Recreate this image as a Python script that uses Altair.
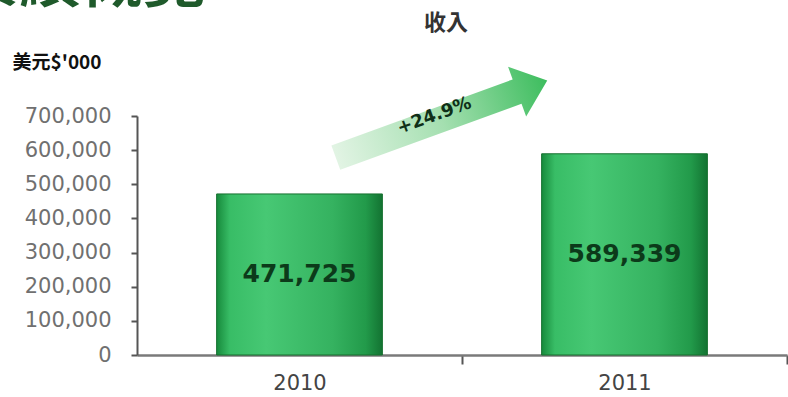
import altair as alt
import pandas as pd

# ---- data ----
years = ["2010", "2011"]
revenue = [471725, 589339]
growth_text = ["+24.9%"]
y_tick_values = [0, 100000, 200000, 300000, 400000, 500000, 600000, 700000]
chart_title = "收入"
y_title = "美元$'000"
heading = "業績概覽"

df = pd.DataFrame({"year": years, "revenue": revenue})
df["label"] = [f"{v:,}" for v in revenue]
df["mid"] = df["revenue"] / 2

# arrow annotation (position in the chart's own data space: x = year index 0..2)
arrow_df = pd.DataFrame({"ax": [0.937], "ay": [691000], "tx": [0.915], "ty": [700000], "txt": growth_text})

FONT = "DejaVu Sans"
CJK = "Noto Sans CJK TC"

y_scale = alt.Scale(domain=[0, 700000], nice=False, zero=True)
y_axis = alt.Axis(
    values=y_tick_values, labelExpr="format(datum.value, ',')", grid=False,
    domainColor="#555555", domainWidth=2, tickColor="#555555", tickWidth=2, tickSize=6,
    labelColor="#707070", labelFont=FONT, labelFontSize=21, labelPadding=20,
    titleAngle=0, titleAlign="left", titleBaseline="middle", titleX=-125, titleY=-54,
    titleFont=CJK, titleFontSize=19, titleFontWeight="bold", titleColor="#111111",
)

x_axis = alt.Axis(
    labelAngle=0, grid=False, domainColor="#7a7a7a", domainWidth=2.5,
    tickColor="#555555", tickSize=9, tickWidth=2, tickOffset=162.5, labelOffset=-162.5,
    labelColor="#444444", labelFont=FONT, labelFontSize=21, labelPadding=8,
)
x_scale = alt.Scale(paddingInner=0.49, paddingOuter=0.245)

bar_grad = alt.Gradient(
    gradient="linear", x1=0, x2=1, y1=0, y2=0,
    stops=[
        alt.GradientStop(offset=0, color="#178a3c"),
        alt.GradientStop(offset=0.08, color="#38bd66"),
        alt.GradientStop(offset=0.3, color="#47c874"),
        alt.GradientStop(offset=0.7, color="#35b260"),
        alt.GradientStop(offset=0.9, color="#229a4a"),
        alt.GradientStop(offset=1, color="#137332"),
    ],
)

bars = alt.Chart(df).mark_bar(fill=bar_grad, stroke="#16702f", strokeWidth=1).encode(
    x=alt.X("year:N", scale=x_scale, axis=x_axis, title=None),
    y=alt.Y("revenue:Q", scale=y_scale, axis=y_axis, title=y_title),
)

labels = alt.Chart(df).mark_text(
    font=FONT, fontWeight="bold", fontSize=25, color="#0c3a1a", baseline="middle"
).encode(
    x=alt.X("year:N", scale=x_scale, axis=x_axis, title=None),
    y=alt.Y("mid:Q", scale=y_scale, axis=y_axis, title=y_title),
    text="label:N",
)

bar_layer = alt.layer(bars, labels)

arrow_path = "M -1 -0.115 L 0.715 -0.115 L 0.715 -0.235 L 1 0 L 0.715 0.235 L 0.715 0.115 L -1 0.115 Z"
arrow_grad = alt.Gradient(
    gradient="linear", x1=0, x2=1, y1=0, y2=0,
    stops=[
        alt.GradientStop(offset=0, color="#e2f4e4"),
        alt.GradientStop(offset=0.5, color="#a4dfb0"),
        alt.GradientStop(offset=1, color="#3dbd5e"),
    ],
)
x_arrow_scale = alt.Scale(domain=[0, 2], nice=False, zero=False)

arrow = alt.Chart(arrow_df).mark_point(
    shape=arrow_path, filled=True, fill=arrow_grad, opacity=1, strokeWidth=0,
    size=50625, angle=340,
).encode(
    x=alt.X("ax:Q", scale=x_arrow_scale, axis=None),
    y=alt.Y("ay:Q", scale=y_scale, axis=y_axis, title=y_title),
)

arrow_text = alt.Chart(arrow_df).mark_text(
    font=FONT, fontWeight="bold", fontSize=18, color="#0f2f18", angle=340, baseline="middle"
).encode(
    x=alt.X("tx:Q", scale=x_arrow_scale, axis=None),
    y=alt.Y("ty:Q", scale=y_scale, axis=y_axis, title=y_title),
    text="txt:N",
)

arrow_layer = alt.layer(arrow, arrow_text)

title_df = pd.DataFrame({"t": [chart_title]})
title_mark = alt.Chart(title_df).mark_text(
    font=CJK, fontWeight="bold", fontSize=22, color="#333333", align="center", baseline="middle"
).encode(x=alt.value(309), y=alt.value(-93), text="t:N")

head_df = pd.DataFrame({"t": [heading]})
head_mark = alt.Chart(head_df).mark_text(
    font=CJK, fontWeight="bold", fontSize=62, color="#1f5a2b", align="left", baseline="bottom"
).encode(x=alt.value(-180), y=alt.value(-101), text="t:N")

chart = (
    alt.layer(bar_layer, arrow_layer, title_mark, head_mark)
    .resolve_scale(x="independent")
    .properties(
        width=650, height=239,
        autosize=alt.AutoSizeParams(type="none"),
        padding={"left": 137, "top": 116, "right": 1, "bottom": 42},
        background="white",
    )
    .configure_view(stroke=None)
)

chart.save("out.html", embed_options={"renderer": "svg", "actions": False})
